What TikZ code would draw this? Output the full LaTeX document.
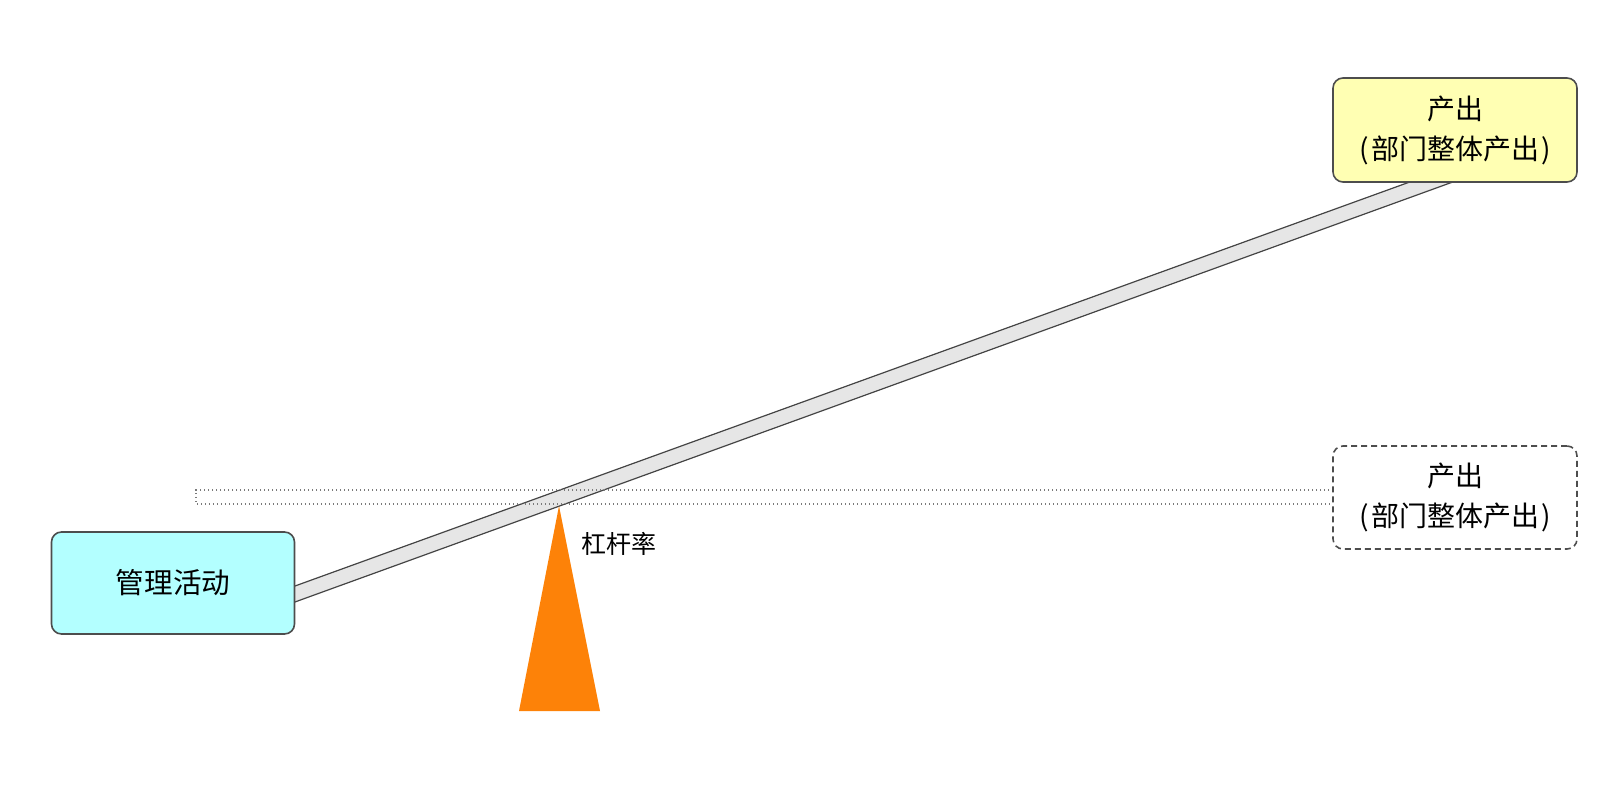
\documentclass[tikz,border=0pt]{standalone}
\usepackage{fontspec}
\newfontfamily\cjk{Noto Sans CJK SC}
\definecolor{boxline}{HTML}{4D4D4D}
\definecolor{yellowfill}{HTML}{FFFFB3}
\definecolor{cyanfill}{HTML}{B3FFFF}
\definecolor{beamfill}{HTML}{E6E6E6}
\definecolor{beamline}{HTML}{444444}
\definecolor{fulcrum}{HTML}{FD8208}
\definecolor{dotgray}{HTML}{7A7A7A}
\tikzset{
  boxbase/.style={rounded corners=5pt, draw=boxline, line width=0.8pt, align=center,
    font=\cjk\fontsize{14}{20}\selectfont, inner sep=0pt},
  outbox/.style={boxbase, fill=yellowfill, minimum width=122pt, minimum height=52pt},
  ghostbox/.style={boxbase, dashed, dash pattern=on 3pt off 2pt, fill=white, minimum width=122pt, minimum height=51.5pt},
  actbox/.style={boxbase, fill=cyanfill, minimum width=121.5pt, minimum height=51pt, font=\cjk\fontsize{14.3}{17}\selectfont},
  beam/.style={fill=beamfill, draw=beamline, line width=0.6pt},
  level/.style={draw=dotgray, line width=0.7pt, dash pattern=on 0.7pt off 1.3pt},
  lbl/.style={font=\cjk\fontsize{12.5}{15}\selectfont, inner sep=0pt}
}
\begin{document}
\begin{tikzpicture}[x=0.5pt, y=-0.5pt]
\useasboundingbox (0,0) rectangle (1620,806);
% beam (ends hidden under the boxes)
\coordinate (bUL) at (250,602.3);
\coordinate (bLL) at (250,618.3);
\coordinate (bUR) at (1498,150);
\coordinate (bLR) at (1541,150);
\draw[beam] (bUL) -- (bUR) -- (bLR) -- (bLL) -- cycle;
% level reference (horizontal beam)
\draw[level] (1333,490) -- (196,490) -- (196,504) -- (1333,504);
% fulcrum
\coordinate (apex) at (559,506);
\fill[fulcrum] (apex) -- (600,711) -- (519,711) -- cycle;
\node[lbl] (rate) at (619,544) {杠杆率};
% boxes
\node[outbox] (out) at (1455,130) {产出\\(\kern1pt 部门整体产出\kern1pt)};
\node[ghostbox] (ghost) at (1455,497.5) {产出\\(\kern1pt 部门整体产出\kern1pt)};
\node[actbox] (act) at (173,583) {管理活动};
\end{tikzpicture}
\end{document}
